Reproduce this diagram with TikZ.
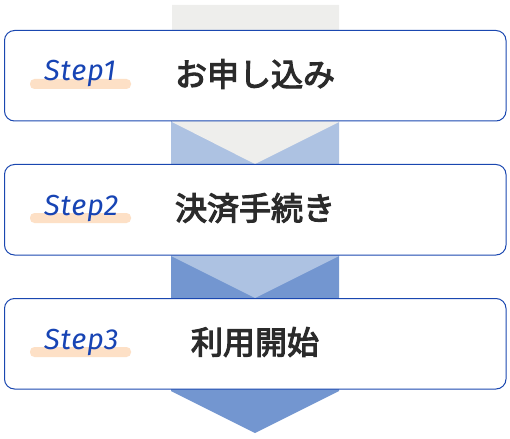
\documentclass[tikz,border=0pt]{standalone}
\usepackage{fontspec}
\newfontfamily\cjk{Noto Sans CJK JP}[FakeBold=3.5]
\newfontfamily\stepfont{Fira Sans}[LetterSpace=3]
\definecolor{grayband}{HTML}{EEEEEC}
\definecolor{lightband}{HTML}{ADC2E2}
\definecolor{midband}{HTML}{7396D0}
\definecolor{boxline}{HTML}{1A47B0}
\definecolor{steptext}{HTML}{1744B4}
\definecolor{peach}{HTML}{FDE0C6}
\definecolor{jptext}{HTML}{2B2B2B}
\tikzset{
  stepbox/.style={draw=boxline, line width=1pt, fill=white, rounded corners=10pt},
  steplabel/.style={anchor=base west, inner sep=0pt, text=steptext, font=\stepfont\itshape\fontsize{29}{29}\selectfont},
  highlight/.style={fill=peach, rounded corners=4.5pt, draw=none},
  jplabel/.style={anchor=center, inner sep=0pt, text=jptext, font=\cjk\fontsize{32}{32}\selectfont},
}
\begin{document}
\begin{tikzpicture}[x=1pt,y=-1pt]
\useasboundingbox (0,0) rectangle (510,438);
% columns with chevrons
\fill[midband] (171,200) -- (339,200) -- (339,391) -- (255,433) -- (171,391) -- cycle;
\fill[lightband] (171,70) -- (339,70) -- (339,256) -- (255,298) -- (171,256) -- cycle;
\fill[grayband] (172,5) -- (339,5) -- (339,122) -- (255,164) -- (172,122) -- cycle;
% boxes
\draw[stepbox] (4.5,30.5) rectangle (506,121);
\draw[stepbox] (4.5,164.5) rectangle (506,255);
\draw[stepbox] (4.5,298.5) rectangle (506,389);
% highlights
\fill[highlight] (30,79) rectangle (131,89);
\fill[highlight] (30,213) rectangle (131,223);
\fill[highlight] (30,347) rectangle (131,357);
% labels
\node[steplabel] (s1) at (44,81) {Step1};
\node[steplabel] (s2) at (44,215) {Step2};
\node[steplabel] (s3) at (44,349) {Step3};
\node[jplabel] (t1) at (255,74) {お申し込み};
\node[jplabel] (t2) at (255,208) {決済手続き};
\node[jplabel] (t3) at (255,342) {利用開始};
\end{tikzpicture}
\end{document}
